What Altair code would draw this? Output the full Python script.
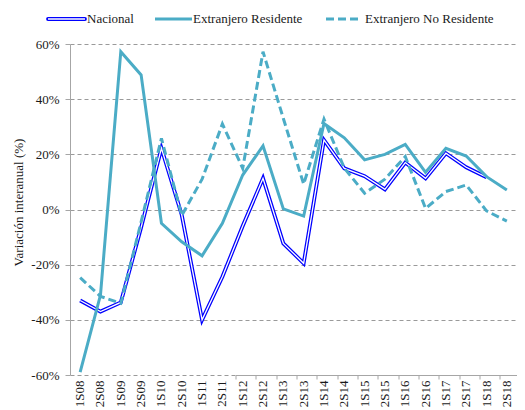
import altair as alt
import pandas as pd

periods = ["1S08", "2S08", "1S09", "2S09", "1S10", "2S10", "1S11", "2S11",
           "1S12", "2S12", "1S13", "2S13", "1S14", "2S14", "1S15", "2S15",
           "1S16", "2S16", "1S17", "2S17", "1S18", "2S18"]
nacional = [-33, -37, -33.7, -6.5, 22.2, -2, -40, -24.4, -6, 11.3, -12.3, -19.5,
            25.2, 14.9, 12.1, 7.3, 17, 11.3, 20.4, 15.3, 11.7, None]
residente = [-59, -31, 57.2, 48.8, -5, -11.7, -16.8, -5, 12.5, 23.1, 0.2, -2.4,
             31.2, 26, 18, 20, 23.6, 13.5, 22.2, 19.4, 11.9, 7.1]
no_residente = [-24.7, -31.5, -34, -4.5, 25.8, -2.2, 11, 31, 14.9, 57.2, 33, 9.2,
                32.8, 15, 5.9, 11, 19.2, 0.4, 6.5, 8.9, -0.5, -4.2]
series_names = ["Nacional", "Extranjero Residente", "Extranjero No Residente"]
y_ticks = [-60, -40, -20, 0, 20, 40, 60]
y_title = "Variación interanual (%)"

FONT = "Liberation Serif, Times New Roman, DejaVu Serif, serif"
TEAL = "#4BACC6"
BLUE = "#0000FF"
TXT = "#1a1a1a"
W, H = 447, 331

def frame(vals):
    df = pd.DataFrame({"periodo": periods, "valor": vals})
    return df.dropna()

xscale = alt.Scale(type="band", domain=periods, paddingInner=0, paddingOuter=0)
yscale = alt.Scale(domain=[-60, 60], nice=False, zero=False)

yaxis = alt.Axis(values=y_ticks, labelExpr="datum.value + '%'", grid=True,
                 gridColor="#9a9a9a", gridDash=[4, 3], gridWidth=1,
                 domainColor="#a6a6a6", tickColor="#a6a6a6", tickSize=5,
                 labelPadding=6, labelFont=FONT, labelFontSize=13, labelColor=TXT,
                 title=y_title, titleFont=FONT, titleFontSize=13,
                 titleFontWeight="normal", titleColor=TXT, titlePadding=5,
                 titleY=158)

label_axis = alt.Axis(orient="bottom", labelAngle=270, ticks=False, domain=False,
                      grid=False, labelPadding=5, labelFont=FONT, labelFontSize=13,
                      labelColor=TXT, title=None, labelOverlap=False)
zero_axis = alt.Axis(orient="bottom", position=H / 2, labels=False, ticks=True,
                     tickBand="extent", tickSize=4, tickColor="#a6a6a6",
                     domainColor="#a6a6a6", domainWidth=1.2, grid=False, title=None)

def line(vals, axis, **kw):
    return alt.Chart(frame(vals)).mark_line(**kw).encode(
        x=alt.X("periodo:N", scale=xscale, sort=periods, axis=axis, bandPosition=0.5),
        y=alt.Y("valor:Q", scale=yscale, axis=yaxis),
    )

nac_outer = line(nacional, label_axis, color=BLUE, strokeWidth=3.8)
nac_inner = line(nacional, None, color="white", strokeWidth=1.3)
res = line(residente, zero_axis, color=TEAL, strokeWidth=3)
nores = line(no_residente, None, color=TEAL, strokeWidth=3, strokeDash=[8, 4])

# legend (drawn above the plot area)
LY = -25
legend_items = []
sym = [(-22, 15), (85, 122), (256, 289)]
txt_x = [17, 123, 295]
for i, name in enumerate(series_names):
    x0, x1 = sym[i]
    base = alt.Chart(pd.DataFrame({"t": [name]}))
    if i == 0:
        legend_items.append(base.mark_rule(color=BLUE, strokeWidth=3.8, strokeCap="round").encode(
            x=alt.value(x0), x2=alt.value(x1), y=alt.value(LY)))
        legend_items.append(base.mark_rule(color="white", strokeWidth=1.3).encode(
            x=alt.value(x0), x2=alt.value(x1), y=alt.value(LY)))
    elif i == 1:
        legend_items.append(base.mark_rule(color=TEAL, strokeWidth=3).encode(
            x=alt.value(x0), x2=alt.value(x1), y=alt.value(LY)))
    else:
        legend_items.append(base.mark_rule(color=TEAL, strokeWidth=3, strokeDash=[8, 4]).encode(
            x=alt.value(x0), x2=alt.value(x1), y=alt.value(LY)))
    legend_items.append(base.mark_text(align="left", baseline="middle", font=FONT,
                                       fontSize=13, color=TXT).encode(
        x=alt.value(txt_x[i]), y=alt.value(LY), text="t:N"))

chart = alt.layer(nac_outer, nac_inner, res, nores, *legend_items).resolve_axis(
    x="independent"
).properties(
    width=W, height=H,
    padding={"left": 62, "top": 36, "right": 0, "bottom": 36},
    autosize=alt.AutoSizeParams(type="none"),
    background="white",
).configure_view(stroke=None)

chart.save("out.html", embed_options={"renderer": "svg", "actions": False})
